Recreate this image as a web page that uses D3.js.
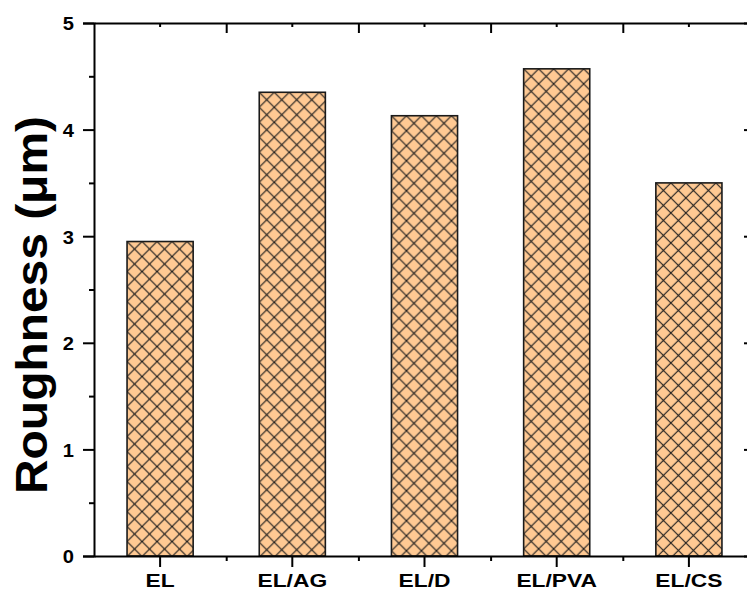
<!DOCTYPE html>
<html>
<head>
<meta charset="utf-8">
<script src="https://cdn.jsdelivr.net/npm/d3@7"></script>
<style>
  html, body { margin: 0; padding: 0; background: #fff; }
  svg { display: block; }
  text { font-family: "Liberation Sans", Arial, sans-serif; font-weight: bold; fill: #000; }
</style>
</head>
<body>
<svg id="chart" width="747" height="591"></svg>
<script>
// Surface roughness of each sample
const categories = ["EL", "EL/AG", "EL/D", "EL/PVA", "EL/CS"];
const values = [2.95, 4.35, 4.13, 4.57, 3.50];
const yTicks = [0, 1, 2, 3, 4, 5];
const yMinorTicks = [0.5, 1.5, 2.5, 3.5, 4.5];

const svg = d3.select("#chart");
const plotLeft = 94, plotRight = 755, plotTop = 23, plotBottom = 556;
const fontStack = "'Liberation Sans', Arial, sans-serif";

const x = d3.scaleBand().domain(categories).range([plotLeft, plotRight])
  .paddingInner(0.5).paddingOuter(0.25);
// band boundaries, used for the ticks that sit between categories
const xi = d3.scaleLinear().domain([0, categories.length]).range([plotLeft, plotRight]);
const y = d3.scaleLinear().domain([0, 5]).range([plotBottom, plotTop]);

const defs = svg.append("defs");
const hatch = 15;

// bars with cross-hatch fill
const bars = svg.append("g");
categories.forEach((c, i) => {
  const bx = x(c), by = y(values[i]);
  const p = defs.append("pattern")
    .attr("id", "hatch" + i)
    .attr("patternUnits", "userSpaceOnUse")
    .attr("x", bx).attr("y", by)
    .attr("width", hatch).attr("height", hatch);
  p.append("rect").attr("width", hatch).attr("height", hatch).attr("fill", "#FFC993");
  p.append("path")
    .attr("d", `M0,0L${hatch},${hatch}M0,${hatch}L${hatch},0M-2,${hatch-2}L2,${hatch+2}M${hatch-2},-2L${hatch+2},2M-2,2L2,-2M${hatch-2},${hatch+2}L${hatch+2},${hatch-2}`)
    .attr("stroke", "#1a1a1a").attr("stroke-width", 1.1).attr("fill", "none");
});
bars.selectAll("rect").data(values).join("rect")
  .attr("x", (d, i) => x(categories[i]))
  .attr("y", d => y(d))
  .attr("width", x.bandwidth())
  .attr("height", d => y(0) - y(d))
  .attr("fill", (d, i) => `url(#hatch${i})`)
  .attr("stroke", "#1a1a1a").attr("stroke-width", 1.6);

function styleAxis(g) {
  g.selectAll("path.domain").attr("stroke", "#000").attr("stroke-width", 2);
  g.selectAll(".tick line").attr("stroke", "#000").attr("stroke-width", 2);
}

// left axis
const yLeft = svg.append("g").attr("transform", `translate(${plotLeft},0)`)
  .call(d3.axisLeft(y).tickValues(yTicks).tickSize(11).tickPadding(9).tickFormat(d3.format("d")))
  .call(styleAxis);
yLeft.selectAll(".tick text")
  .attr("x", 0).attr("dy", null).attr("y", 0)
  .attr("transform", "translate(-20,6.8) scale(1.06,1)")
  .style("font-size", "19px").style("font-family", fontStack).style("font-weight", "bold");
svg.append("g").attr("transform", `translate(${plotLeft},0)`)
  .call(d3.axisLeft(y).tickValues(yMinorTicks).tickSize(5).tickFormat(""))
  .call(g => g.select(".domain").remove())
  .call(styleAxis);

// right axis, ticks pointing inward
svg.append("g").attr("transform", `translate(${plotRight},0)`)
  .call(d3.axisLeft(y).tickValues(yTicks).tickSizeInner(11).tickSizeOuter(0).tickFormat(""))
  .call(styleAxis);
svg.append("g").attr("transform", `translate(${plotRight},0)`)
  .call(d3.axisLeft(y).tickValues(yMinorTicks).tickSize(5).tickFormat(""))
  .call(g => g.select(".domain").remove())
  .call(styleAxis);

// bottom axis
const xBottom = svg.append("g").attr("transform", `translate(0,${plotBottom})`)
  .call(d3.axisBottom(x).tickSizeInner(11).tickSizeOuter(0))
  .call(styleAxis);
xBottom.selectAll(".tick text")
  .attr("y", 0).attr("dy", null)
  .attr("transform", "translate(0,31) scale(1.2,1)")
  .style("font-size", "19px").style("font-family", fontStack).style("font-weight", "bold");
svg.append("g").attr("transform", `translate(0,${plotBottom})`)
  .call(d3.axisBottom(xi).tickValues([1, 2, 3, 4]).tickSize(5).tickFormat(""))
  .call(g => g.select(".domain").remove())
  .call(styleAxis);

// top axis, ticks pointing inward
svg.append("g").attr("transform", `translate(0,${plotTop})`)
  .call(d3.axisBottom(x).tickSizeInner(4).tickSizeOuter(0).tickFormat(""))
  .call(styleAxis);
svg.append("g").attr("transform", `translate(0,${plotTop})`)
  .call(d3.axisBottom(xi).tickValues([1, 2, 3, 4]).tickSize(10).tickFormat(""))
  .call(g => g.select(".domain").remove())
  .call(styleAxis);

// y-axis title
svg.append("text")
  .attr("transform", `translate(47,305) rotate(-90) scale(1.065,1)`)
  .attr("text-anchor", "middle")
  .attr("font-size", 45)
  .text("Roughness (μm)");
</script>
</body>
</html>
